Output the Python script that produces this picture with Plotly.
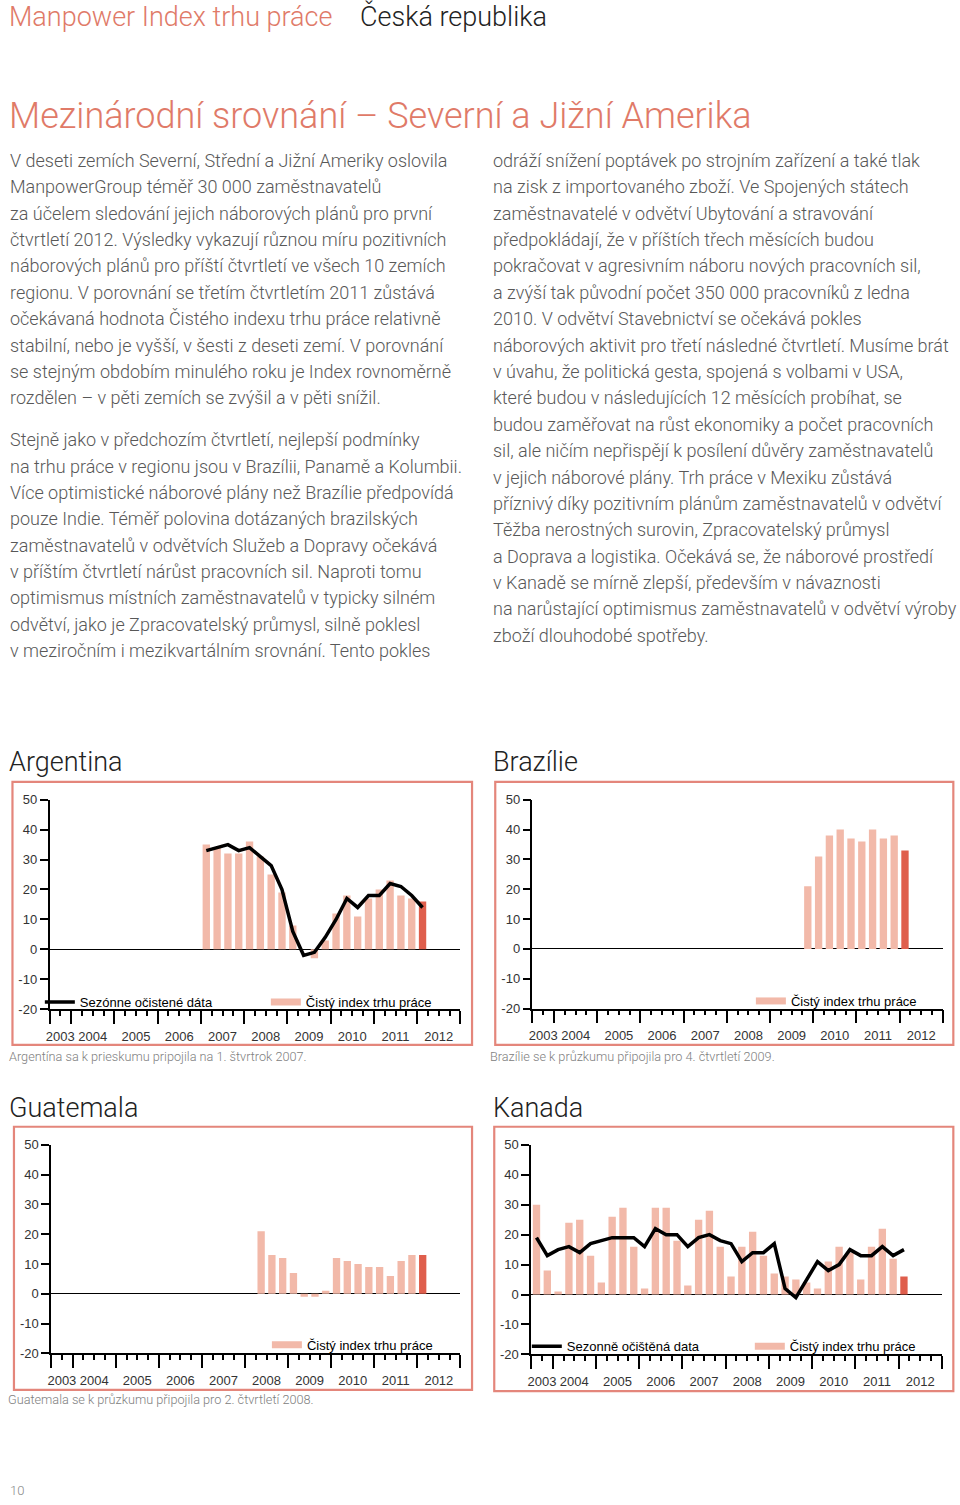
import plotly.graph_objects as go

W, H = 960, 1505

# ---------------- data ----------------
years = [2003, 2004, 2005, 2006, 2007, 2008, 2009, 2010, 2011, 2012]
first_quarter = (2003, 3)          # first quarter shown on the x axis
last_quarter = (2012, 4)

arg_start = (2007, 1)
arg_nei = [35, 34, 32, 32, 36, 31, 25, 19, 8, 0, -3, 3, 12, 18, 11, 17, 20, 23, 18, 17, 16]
arg_sa = [33, 34, 35, 33, 34, 31, 28, 20, 6, -2, -1, 4, 10, 17, 14, 18, 18, 22, 21, 18, 14]

bra_start = (2009, 4)
bra_nei = [21, 31, 38, 40, 37, 36, 40, 37, 38, 33]

gua_start = (2008, 2)
gua_nei = [21, 13, 12, 7, -1, -1, 1, 12, 11, 10, 9, 9, 6, 11, 13, 13]

can_start = (2003, 3)
can_nei = [30, 8, 1, 24, 25, 13, 4, 26, 29, 16, 2, 29, 29, 18, 3, 25, 28, 16,
           6, 16, 21, 13, 7, 6, 5, 4, 2, 11, 16, 14, 5, 16, 22, 12, 6]
can_sa = [19, 13, 15, 16, 14, 17, 18, 19, 19, 19, 16, 22, 20, 20, 16, 19, 20, 18,
          17, 11, 14, 14, 17, 2, -1, 5, 11, 8, 10, 15, 13, 13, 16, 13, 15]

y_ticks = [-20, -10, 0, 10, 20, 30, 40, 50]
y_tick_text = ["-20", "-10", "0", "10", "20", "30", "40", "50"]

# ---------------- text ----------------
header_left = "Manpower Index trhu práce"
header_right = "Česká republika"
title = "Mezinárodní srovnání – Severní a Jižní Amerika"

left_p1 = [
    "V deseti zemích Severní, Střední a Jižní Ameriky oslovila",
    "ManpowerGroup téměř 30 000 zaměstnavatelů",
    "za účelem sledování jejich náborových plánů pro první",
    "čtvrtletí 2012. Výsledky vykazují různou míru pozitivních",
    "náborových plánů pro příští čtvrtletí ve všech 10 zemích",
    "regionu. V porovnání se třetím čtvrtletím 2011 zůstává",
    "očekávaná hodnota Čistého indexu trhu práce relativně",
    "stabilní, nebo je vyšší, v šesti z deseti zemí. V porovnání",
    "se stejným obdobím minulého roku je Index rovnoměrně",
    "rozdělen – v pěti zemích se zvýšil a v pěti snížil.",
]
left_p2 = [
    "Stejně jako v předchozím čtvrtletí, nejlepší podmínky",
    "na trhu práce v regionu jsou v Brazílii, Panamě a Kolumbii.",
    "Více optimistické náborové plány než Brazílie předpovídá",
    "pouze Indie. Téměř polovina dotázaných brazilských",
    "zaměstnavatelů v odvětvích Služeb a Dopravy očekává",
    "v příštím čtvrtletí nárůst pracovních sil. Naproti tomu",
    "optimismus místních zaměstnavatelů v typicky silném",
    "odvětví, jako je Zpracovatelský průmysl, silně poklesl",
    "v meziročním i mezikvartálním srovnání. Tento pokles",
]
right_col = [
    "odráží snížení poptávek po strojním zařízení a také tlak",
    "na zisk z importovaného zboží. Ve Spojených státech",
    "zaměstnavatelé v odvětví Ubytování a stravování",
    "předpokládají, že v příštích třech měsících budou",
    "pokračovat v agresivním náboru nových pracovních sil,",
    "a zvýší tak původní počet 350 000 pracovníků z ledna",
    "2010. V odvětví Stavebnictví se očekává pokles",
    "náborových aktivit pro třetí následné čtvrtletí. Musíme brát",
    "v úvahu, že politická gesta, spojená s volbami v USA,",
    "které budou v následujících 12 měsících probíhat, se",
    "budou zaměřovat na růst ekonomiky a počet pracovních",
    "sil, ale ničím nepřispějí k posílení důvěry zaměstnavatelů",
    "v jejich náborové plány. Trh práce v Mexiku zůstává",
    "příznivý díky pozitivním plánům zaměstnavatelů v odvětví",
    "Těžba nerostných surovin, Zpracovatelský průmysl",
    "a Doprava a logistika. Očekává se, že náborové prostředí",
    "v Kanadě se mírně zlepší, především v návaznosti",
    "na narůstající optimismus zaměstnavatelů v odvětví výroby",
    "zboží dlouhodobé spotřeby.",
]

legend_sa_sk = "Sezónne očistené dáta"
legend_sa_cz = "Sezonně očištěná data"
legend_nei = "Čistý index trhu práce"

# ---------------- style ----------------
SALMON = "#e07a68"
BAR_LIGHT = "#f2b9a9"
BAR_DARK = "#df5e4c"
BORDER = "#e4867b"
BODY = "#585858"
LIGHT = "Roboto"


def fx(px):
    return px / W


def fy(py):
    return 1 - py / H


def qidx(yq):
    y, q = yq
    return (y - first_quarter[0]) * 4 + (q - first_quarter[1])


n_q = qidx(last_quarter) + 1
x_range = [-0.5, n_q - 0.5]
year_bounds = [-0.5] + [qidx((y, 1)) - 0.5 for y in years[1:]] + [n_q - 0.5]
year_centers = [(year_bounds[i] + year_bounds[i + 1]) / 2 for i in range(len(years))]
quarter_bounds = [i - 0.5 for i in range(n_q + 1)]

charts = [
    dict(name="Argentina", nei=arg_nei, sa=arg_sa, start=arg_start, sa_name=legend_sa_sk,
         ax=(45.7, 458.3, 800.7, 1012.3), box=(8.5, 782.7, 470, 1048.3),
         head=(3, 763), cap=(3, 1060, "Argentína sa k prieskumu pripojila na 1. štvrtrok 2007."),
         leg=(36, 1005), ew=181),
    dict(name="Brazílie", nei=bra_nei, sa=None, start=bra_start, sa_name=None,
         ax=(530.7, 942.7, 800.7, 1011.7), box=(493.3, 782.7, 953.3, 1048.3),
         head=(489, 763), cap=(486, 1060, "Brazílie se k průzkumu připojila pro 4. čtvrtletí 2009."),
         leg=(750, 1004), ew=170),
    dict(name="Guatemala", nei=gua_nei, sa=None, start=gua_start, sa_name=None,
         ax=(47.3, 458.3, 1149.3, 1360), box=(10, 1131, 470, 1396.7),
         head=(3, 1112), cap=(2, 1407, "Guatemala se k průzkumu připojila pro 2. čtvrtletí 2008."),
         leg=(264, 1351.3), ew=170),
    dict(name="Kanada", nei=can_nei, sa=can_sa, start=can_start, sa_name=legend_sa_cz,
         ax=(529.3, 941.7, 1149.3, 1361), box=(492.3, 1131, 953.3, 1398),
         head=(489, 1112), cap=None,
         leg=(525, 1352.7), ew=178),
]

fig = go.Figure()
layout = dict(
    width=W, height=H, margin=dict(l=0, r=0, t=0, b=0),
    paper_bgcolor="white", plot_bgcolor="rgba(0,0,0,0)",
    showlegend=True,
)
annotations = []
shapes = []

for i, c in enumerate(charts):
    k = i + 1
    xa = "x" if k == 1 else f"x{k}"
    ya = "y" if k == 1 else f"y{k}"
    xlab = f"x{k + 4}"
    legname = "legend" if k == 1 else f"legend{k}"
    s = qidx(c["start"])
    xs = [s + j for j in range(len(c["nei"]))]
    colors = [BAR_LIGHT] * (len(xs) - 1) + [BAR_DARK]
    fig.add_trace(go.Bar(x=xs, y=c["nei"], marker=dict(color=colors, line=dict(width=0)),
                         width=0.68, xaxis=xa, yaxis=ya, showlegend=False, hoverinfo="skip"))
    if c["sa"] is not None:
        fig.add_trace(go.Scatter(x=xs, y=c["sa"], mode="lines", name=c["sa_name"],
                                 line=dict(color="black", width=3.5), xaxis=xa, yaxis=ya,
                                 legend=legname, legendwidth=c["ew"], hoverinfo="skip"))
    # legend proxy for the bar series (wide flat swatch)
    fig.add_trace(go.Scatter(x=[None], y=[None], mode="lines", name=legend_nei,
                             line=dict(color=BAR_LIGHT, width=7), xaxis=xa, yaxis=ya,
                             legend=legname, legendwidth=130, hoverinfo="skip"))
    # dummy trace for the label axis
    fig.add_trace(go.Scatter(x=[None], y=[None], mode="lines", showlegend=False,
                             xaxis=xlab, yaxis=ya, hoverinfo="skip"))

    x0, x1, yt, yb = c["ax"]
    layout["xaxis" if k == 1 else f"xaxis{k}"] = dict(
        domain=[fx(x0), fx(x1)], anchor=ya, range=x_range, showgrid=False, zeroline=False,
        showline=True, linecolor="black", linewidth=1.5,
        tickmode="array", tickvals=year_bounds, ticks="outside", ticklen=13, tickwidth=1.5,
        tickcolor="black", showticklabels=False,
        minor=dict(tickmode="array", tickvals=quarter_bounds, ticks="outside", ticklen=5,
                   tickwidth=1.5, tickcolor="black"),
    )
    layout[f"xaxis{k + 4}"] = dict(
        overlaying=xa, anchor=ya, side="bottom", range=x_range, showgrid=False, zeroline=False,
        showline=False, tickmode="array", tickvals=year_centers, ticktext=[str(y) for y in years],
        ticks="outside", ticklen=15, tickcolor="rgba(0,0,0,0)",
        tickfont=dict(family="Liberation Sans", size=13, color="#333"),
    )
    layout["yaxis" if k == 1 else f"yaxis{k}"] = dict(
        domain=[fy(yb), fy(yt)], anchor=xa, range=[-20, 50], showgrid=False,
        zeroline=True, zerolinecolor="black", zerolinewidth=1.3,
        showline=True, linecolor="black", linewidth=1.5,
        tickmode="array", tickvals=y_ticks, ticktext=y_tick_text, ticks="outside", ticklen=8,
        tickwidth=1.5, tickcolor="black",
        tickfont=dict(family="Liberation Sans", size=13, color="#333"),
    )
    lx, ly = c["leg"]
    layout[legname] = dict(
        orientation="h", x=fx(lx), y=fy(ly), xanchor="left", yanchor="middle",
        bgcolor="rgba(0,0,0,0)", borderwidth=0, traceorder="normal",
        font=dict(family="Liberation Sans", size=13, color="black"), itemclick=False,
    )
    bx0, by0, bx1, by1 = c["box"]
    shapes.append(dict(type="rect", xref="paper", yref="paper", x0=fx(bx0), x1=fx(bx1),
                       y0=fy(by0), y1=fy(by1), line=dict(color=BORDER, width=2.2), layer="below"))
    hx, hy = c["head"]
    annotations.append(dict(text=c["name"], x=fx(hx), y=fy(hy), xref="paper", yref="paper",
                            xanchor="left", yanchor="middle", showarrow=False,
                            font=dict(family=LIGHT, weight=300, size=27, color="#222")))
    if c["cap"]:
        cx, cy, ct = c["cap"]
        annotations.append(dict(text=ct, x=fx(cx), y=fy(cy), xref="paper", yref="paper",
                                xanchor="left", yanchor="middle", showarrow=False,
                                font=dict(family=LIGHT, weight=300, size=12.7, color="#808080")))


def add_line(text, px, py, size, color, weight=300, family=LIGHT):
    annotations.append(dict(text=text, x=fx(px), y=fy(py), xref="paper", yref="paper",
                            xanchor="left", yanchor="middle", showarrow=False,
                            font=dict(family=family, weight=weight, size=size, color=color)))


add_line(header_left, 3, 10, 27, SALMON)
add_line(header_right, 355, 10, 27, "#222")
add_line(title, 3, 110, 36, SALMON)

LS = 26.65
for j, t in enumerate(left_p1):
    add_line(t, 4, 155 + j * LS, 18, BODY)
for j, t in enumerate(left_p2):
    add_line(t, 4, 437 + j * LS, 18, BODY)
for j, t in enumerate(right_col):
    add_line(t, 489, 155 + j * LS, 18, BODY)
add_line("10", 4, 1498, 13, "#888")

layout["annotations"] = annotations
layout["shapes"] = shapes
fig.update_layout(**layout)
fig.write_html("out.html")
